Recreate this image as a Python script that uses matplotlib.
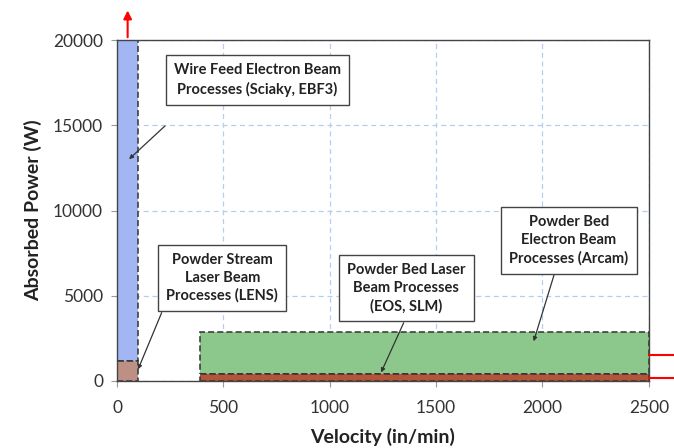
import matplotlib
matplotlib.use('Agg')
import matplotlib.pyplot as plt
from matplotlib.patches import Rectangle

plt.rcParams['font.family'] = ['Lato', 'DejaVu Sans']

# process windows: (x0, x1, y0, y1)
wire_feed_eb = (0, 100, 1200, 20000)
powder_stream = (0, 100, 0, 1200)
powder_bed_eb = (390, 2500, 400, 2900)
powder_bed_laser = (390, 2500, 0, 400)

# red extension markers
up_arrow_x = 50
right_lines_y = [1550, 150]

# callouts: text, box center, arrow start, arrow tip
labels = ['Wire Feed Electron Beam\nProcesses (Sciaky, EBF3)',
          'Powder Stream\nLaser Beam\nProcesses (LENS)',
          'Powder Bed Laser\nBeam Processes\n(EOS, SLM)',
          'Powder Bed\nElectron Beam\nProcesses (Arcam)']
label_pos = [(660, 17650), (495, 6050), (1360, 5450), (2125, 8250)]
arrow_from = [(235, 15070), (215, 4160), (1353, 3560), (2058, 6360)]
arrow_to = [(47, 12900), (94, 530), (1236, 350), (1955, 2170)]

fig = plt.figure(figsize=(6.74, 4.48), dpi=100)
ax = fig.add_axes([0.1736, 0.1496, 0.789, 0.761])

def box(r, fc):
    x0, x1, y0, y1 = r
    ax.add_patch(Rectangle((x0, y0), x1 - x0, y1 - y0, facecolor=fc,
                           edgecolor='#333333', linestyle=(0, (4, 2)), linewidth=1.1, zorder=2))

box(wire_feed_eb, '#a2b6f4')
box(powder_stream, '#bd9085')
box(powder_bed_eb, '#8cc78c')
box(powder_bed_laser, '#b4553a')

ax.set_xlim(0, 2500)
ax.set_ylim(0, 20000)
ax.set_xticks([0, 500, 1000, 1500, 2000, 2500])
ax.set_yticks([0, 5000, 10000, 15000, 20000])
ax.grid(True, color='#b5cdee', linestyle=(0, (4, 3)), linewidth=0.9, zorder=0)
ax.set_axisbelow(True)
for s in ax.spines.values():
    s.set_color('#444444')
    s.set_linewidth(1.0)
ax.tick_params(axis='both', colors='#999999', labelcolor='#333333', labelsize=12.5, length=4)
ax.tick_params(axis='x', pad=10)
ax.tick_params(axis='y', pad=6)

ax.set_xlabel('Velocity (in/min)', fontsize=14, fontweight='bold', color='#222222', labelpad=8)
ax.set_ylabel('Absorbed Power (W)', fontsize=14, fontweight='bold', color='#222222', labelpad=8)

# red arrow up past the top
ax.annotate('', xy=(up_arrow_x, 21900), xytext=(up_arrow_x, 20000), annotation_clip=False,
            arrowprops=dict(arrowstyle='-|>', color='red', lw=1.5, mutation_scale=12))
# red lines off the right edge
for y in right_lines_y:
    ax.plot([2500, 2640], [y, y], color='red', lw=1.5, clip_on=False, zorder=3)

for txt, pos, p0, p1 in zip(labels, label_pos, arrow_from, arrow_to):
    ax.annotate('', xy=p1, xytext=p0,
                arrowprops=dict(arrowstyle='-|>', color='#333333', lw=0.9, mutation_scale=6), zorder=4)
    ax.text(pos[0], pos[1], txt, ha='center', va='center', fontsize=10.5, fontweight='bold',
            color='#222222', linespacing=1.35, zorder=5,
            bbox=dict(boxstyle='square,pad=0.55', facecolor='white', edgecolor='#444444', linewidth=1.0))

fig.savefig('out.png', dpi=100)
